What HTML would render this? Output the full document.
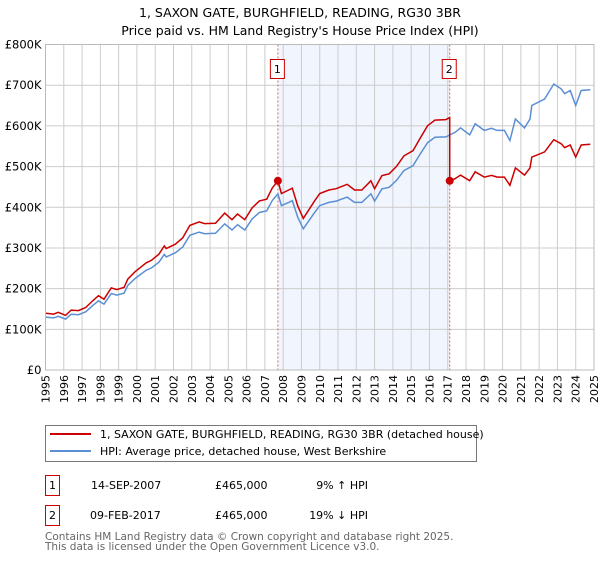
<!DOCTYPE html>
<html><head><meta charset="utf-8"><style>
body{margin:0;background:#fff;width:600px;height:560px;overflow:hidden}
svg{font-family:"DejaVu Sans","Liberation Sans",sans-serif}
</style></head><body>
<svg id="c" width="600" height="560" viewBox="0 0 600 560">
<text x="300" y="17" text-anchor="middle" font-size="12.5" fill="#000">1, SAXON GATE, BURGHFIELD, READING, RG30 3BR</text>
<text x="300" y="35" text-anchor="middle" font-size="12.5" fill="#000">Price paid vs. HM Land Registry's House Price Index (HPI)</text>
<g id="plot"></g>
<g>
<rect x="45.5" y="425.5" width="431" height="36" fill="#fff" stroke="#777"/>
<line x1="50" y1="434" x2="91" y2="434" stroke="#cc0000" stroke-width="2"/>
<text x="100" y="438" font-size="11">1, SAXON GATE, BURGHFIELD, READING, RG30 3BR (detached house)</text>
<line x1="50" y1="451" x2="91" y2="451" stroke="#5b8fd4" stroke-width="2"/>
<text x="100" y="455" font-size="11">HPI: Average price, detached house, West Berkshire</text>
</g>
<g font-size="11">
<rect x="45.5" y="475.5" width="14" height="20" fill="#fff" stroke="#cc0000"/>
<text x="52.5" y="489" text-anchor="middle">1</text>
<text x="91" y="489">14-SEP-2007</text>
<text x="215" y="489">£465,000</text>
<text x="368" y="489" text-anchor="end">9% ↑ HPI</text>
<rect x="45.5" y="505.5" width="14" height="20" fill="#fff" stroke="#cc0000"/>
<text x="52.5" y="519" text-anchor="middle">2</text>
<text x="90" y="519">09-FEB-2017</text>
<text x="215" y="519">£465,000</text>
<text x="368" y="519" text-anchor="end">19% ↓ HPI</text>
</g>
<text x="45" y="540" font-size="10.5" fill="#666">Contains HM Land Registry data © Crown copyright and database right 2025.</text>
<text x="45" y="550" font-size="10.5" fill="#666">This data is licensed under the Open Government Licence v3.0.</text>
</svg>
<script>
const hpiYears=[1995.0,1995.45,1995.7,1996.1,1996.4,1996.8,1997.2,1997.6,1997.9,1998.2,1998.6,1998.9,1999.3,1999.5,1999.9,2000.5,2000.8,2001.2,2001.5,2001.6,2002.1,2002.5,2002.9,2003.4,2003.7,2004.3,2004.8,2005.2,2005.5,2005.9,2006.3,2006.7,2007.1,2007.4,2007.71,2007.9,2008.3,2008.5,2008.8,2009.1,2009.7,2010.0,2010.5,2010.9,2011.5,2011.9,2012.3,2012.8,2013.0,2013.4,2013.8,2014.2,2014.6,2015.1,2015.5,2015.9,2016.3,2016.9,2017.4,2017.7,2018.2,2018.5,2019.0,2019.4,2019.7,2020.1,2020.4,2020.7,2021.2,2021.5,2021.6,2022.3,2022.8,2023.2,2023.4,2023.7,2024.0,2024.3,2024.8];
const hpiValues=[130,128,132,125,137,136,143,159,170,162,188,184,189,208,225,245,251,265,284,278,288,302,331,339,335,336,359,344,357,344,371,387,391,416,433,404,412,416,375,347,386,404,412,415,425,412,412,433,415,445,449,466,490,502,531,559,572,573,584,595,578,605,589,594,589,589,564,617,595,617,650,666,703,691,679,687,650,687,689];
const saleYears=[2007.71,2017.11];
const salePrices=[465,465];
const yTicks=[0,100,200,300,400,500,600,700,800];
const yTickLabels=["£0","£100K","£200K","£300K","£400K","£500K","£600K","£700K","£800K"];
const xTicks=[1995,1996,1997,1998,1999,2000,2001,2002,2003,2004,2005,2006,2007,2008,2009,2010,2011,2012,2013,2014,2015,2016,2017,2018,2019,2020,2021,2022,2023,2024,2025];

const X0=45.5,X1=594,Y0=370,Y1=44.5;
const xs=y=>X0+(y-1995)/30*(X1-X0);
const ys=v=>Y0-v/800*(Y0-Y1);
const NS="http://www.w3.org/2000/svg";
const plot=document.getElementById('plot');
function mk(t,a){const e=document.createElementNS(NS,t);for(const k in a)e.setAttribute(k,a[k]);plot.appendChild(e);return e;}
function hpiAt(y){for(let i=0;i<hpiYears.length-1;i++){if(y<=hpiYears[i+1]){const t=(y-hpiYears[i])/(hpiYears[i+1]-hpiYears[i]);return hpiValues[i]+t*(hpiValues[i+1]-hpiValues[i]);}}return hpiValues[hpiValues.length-1];}

let e=mk('rect',{x:xs(saleYears[0]),y:Y1,width:xs(saleYears[1])-xs(saleYears[0]),height:Y0-Y1,fill:'#eef3fd',opacity:'0.8'});


xTicks.forEach(t=>{const g=mk('line',{x1:xs(t),x2:xs(t),y1:Y1,y2:Y0,stroke:'#ccc','stroke-width':1});


const lx=xs(t)+4,ly=Y0+5;
const l=mk('text',{x:lx,y:ly,'font-size':11,'text-anchor':'end',transform:'rotate(-90 '+lx+' '+ly+')'});l.textContent=t;

});
yTicks.forEach((t,i)=>{const g=mk('line',{x1:X0,x2:X1,y1:ys(t),y2:ys(t),stroke:'#ccc','stroke-width':1});


const l=mk('text',{x:X0-4,y:ys(t)+4,'font-size':11.5,'text-anchor':'end'});l.textContent=yTickLabels[i];

});

saleYears.forEach((s,i)=>{const d=mk('line',{x1:xs(s),x2:xs(s),y1:Y1,y2:Y0,stroke:'#e06060','stroke-dasharray':'2,2','stroke-width':1});


const b=mk('rect',{x:xs(s)-7.5,y:59.5,width:14,height:19,fill:'#fff',stroke:'#cc0000'});


const t=mk('text',{x:xs(s)-0.5,y:73,'font-size':11,'text-anchor':'middle'});t.textContent=i+1;

});

let p=hpiYears.map((y,i)=>(i?'L':'M')+xs(y).toFixed(1)+','+ys(hpiValues[i]).toFixed(1)).join('');
e=mk('path',{d:p,fill:'none',stroke:'#5b8fd4','stroke-width':1.5});



let pts=[];
const r0=salePrices[0]/hpiAt(saleYears[0]),r1=salePrices[1]/hpiAt(saleYears[1]);
hpiYears.forEach((y,i)=>{if(y<saleYears[1])pts.push([y,hpiValues[i]*r0]);});
pts.push([saleYears[1],hpiAt(saleYears[1])*r0]);
pts.push([saleYears[1],salePrices[1]]);
hpiYears.forEach((y,i)=>{if(y>saleYears[1])pts.push([y,hpiValues[i]*r1]);});
p=pts.map((q,i)=>(i?'L':'M')+xs(q[0]).toFixed(1)+','+ys(q[1]).toFixed(1)).join('');
e=mk('path',{d:p,fill:'none',stroke:'#cc0000','stroke-width':1.5});


saleYears.forEach((s,i)=>{const c=mk('circle',{cx:xs(s),cy:ys(salePrices[i]),r:4,fill:'#cc0000'});

});
e=mk('rect',{x:X0,y:Y1,width:X1-X0,height:Y0-Y1,fill:'none',stroke:'#bbb'});


</script>
</body></html>
